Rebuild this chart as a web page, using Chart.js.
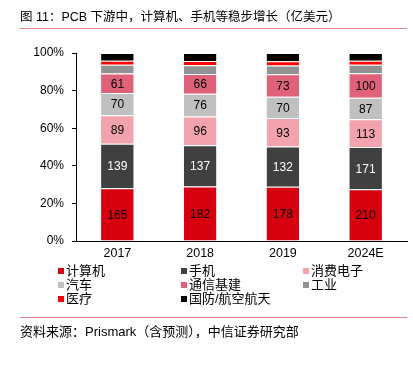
<!DOCTYPE html>
<html>
<head>
<meta charset="utf-8">
<script src="https://cdn.jsdelivr.net/npm/chart.js@4"></script>
<style>
  html, body { margin: 0; padding: 0; background: #fff; }
  body { width: 413px; height: 367px; position: relative; overflow: hidden;
         font-family: "Liberation Sans", "Noto Sans CJK SC", sans-serif; color: #000; }
  #chart { position: absolute; left: 0; top: 0; }
  .title { position: absolute; left: 20px; top: 8px; font-size: 12.5px; line-height: 18px; white-space: nowrap; }
  .line { position: absolute; left: 20px; width: 387px; height: 1px; background: #e8858b; }
  .source { position: absolute; left: 20px; top: 323px; font-size: 13px; line-height: 18px; white-space: nowrap; }
  .legend { position: absolute; left: 0; top: 0; font-size: 13px; }
  .item { position: absolute; white-space: nowrap; line-height: 14px; }
  .item i { display: inline-block; width: 6px; height: 6px; margin-right: 2px; vertical-align: 1px; }
</style>
</head>
<body>
<canvas id="chart" width="413" height="367"></canvas>
<div class="title">图 11：PCB 下游中，计算机、手机等稳步增长（亿美元）</div>
<div class="line" style="top:28px"></div>
<div class="legend" id="legend"></div>
<div class="line" style="top:317px"></div>
<div class="source">资料来源：Prismark（含预测），中信证券研究部</div>
<script>
const categories = ['2017', '2018', '2019', '2024E'];
const seriesNames = ['计算机', '手机', '消费电子', '汽车', '通信基建', '工业', '医疗', '国防/航空航天'];
const computer = [165, 182, 178, 210];
const mobile = [139, 137, 132, 171];
const consumer = [89, 96, 93, 113];
const auto = [70, 76, 70, 87];
const telecom = [61, 66, 73, 100];
const industrial = [27, 29, 29, 34];
const medical = [13, 14, 14, 17];
const military = [24, 27, 27, 31];
const yTicks = [0, 20, 40, 60, 80, 100];

const seriesValues = [computer, mobile, consumer, auto, telecom, industrial, medical, military];
const colors = ['#d7000f', '#404040', '#f2a3ad', '#c0c0c0', '#e0627a', '#939393', '#ff0000', '#000000'];
const labelled = [true, true, true, true, true, false, false, false];

// column totals, bars are shown as share of total
const totals = categories.map((c, i) => seriesValues.reduce((s, arr) => s + arr[i], 0));

const datasets = seriesValues.map((vals, k) => ({
  label: seriesNames[k],
  data: vals.map((v, i) => v / totals[i] * 100),
  raw: vals,
  backgroundColor: colors[k],
  borderColor: '#ffffff',
  borderWidth: { top: 1, bottom: 0, left: 0, right: 0 },
  borderSkipped: false,
  categoryPercentage: 1,
  barPercentage: 0.394
}));

// numbers inside bars
const barLabels = {
  id: 'barLabels',
  afterDatasetsDraw(chart) {
    const ctx = chart.ctx;
    ctx.save();
    ctx.font = '12px "Liberation Sans", Arial, sans-serif';
    ctx.textAlign = 'center';
    ctx.textBaseline = 'middle';
    chart.data.datasets.forEach((ds, k) => {
      if (!labelled[k]) return;
      chart.getDatasetMeta(k).data.forEach((bar, i) => {
        ctx.fillStyle = k === 1 ? '#ffffff' : '#000000';
        ctx.fillText(String(ds.raw[i]), bar.x, (bar.y + bar.base) / 2 + 1);
      });
    });
    ctx.restore();
  }
};

new Chart(document.getElementById('chart'), {
  type: 'bar',
  data: { labels: categories, datasets: datasets },
  options: {
    responsive: false,
    animation: false,
    layout: { padding: { left: 0, right: 6, top: 53, bottom: 96 } },
    plugins: { legend: { display: false }, tooltip: { enabled: false } },
    scales: {
      x: {
        stacked: true,
        grid: { display: false, tickLength: 0 },
        border: { color: '#000', width: 1 },
        ticks: { color: '#000', padding: 5, font: { size: 12.5, family: '"Liberation Sans", Arial' } },
        afterFit(s) { s.height = 30; }
      },
      y: {
        stacked: true,
        min: 0,
        max: 100,
        afterBuildTicks(s) { s.ticks = yTicks.map(v => ({ value: v })); },
        grid: { drawOnChartArea: false, drawTicks: true, tickLength: 4, color: '#000' },
        border: { color: '#000', width: 1 },
        ticks: { color: '#000', padding: 8, callback: v => v + '%', font: { size: 12, family: '"Liberation Sans", Arial' } },
        afterFit(s) { s.width = 76; }
      }
    }
  },
  plugins: [barLabels]
});

// legend in three columns
const legend = document.getElementById('legend');
const colX = [58, 181, 303];
const rowY = [264, 278, 292];
seriesNames.forEach((name, k) => {
  const el = document.createElement('div');
  el.className = 'item';
  el.style.left = colX[k % 3] + 'px';
  el.style.top = rowY[Math.floor(k / 3)] + 'px';
  el.innerHTML = '<i style="background:' + colors[k] + '"></i>' + name;
  legend.appendChild(el);
});
</script>
</body>
</html>
